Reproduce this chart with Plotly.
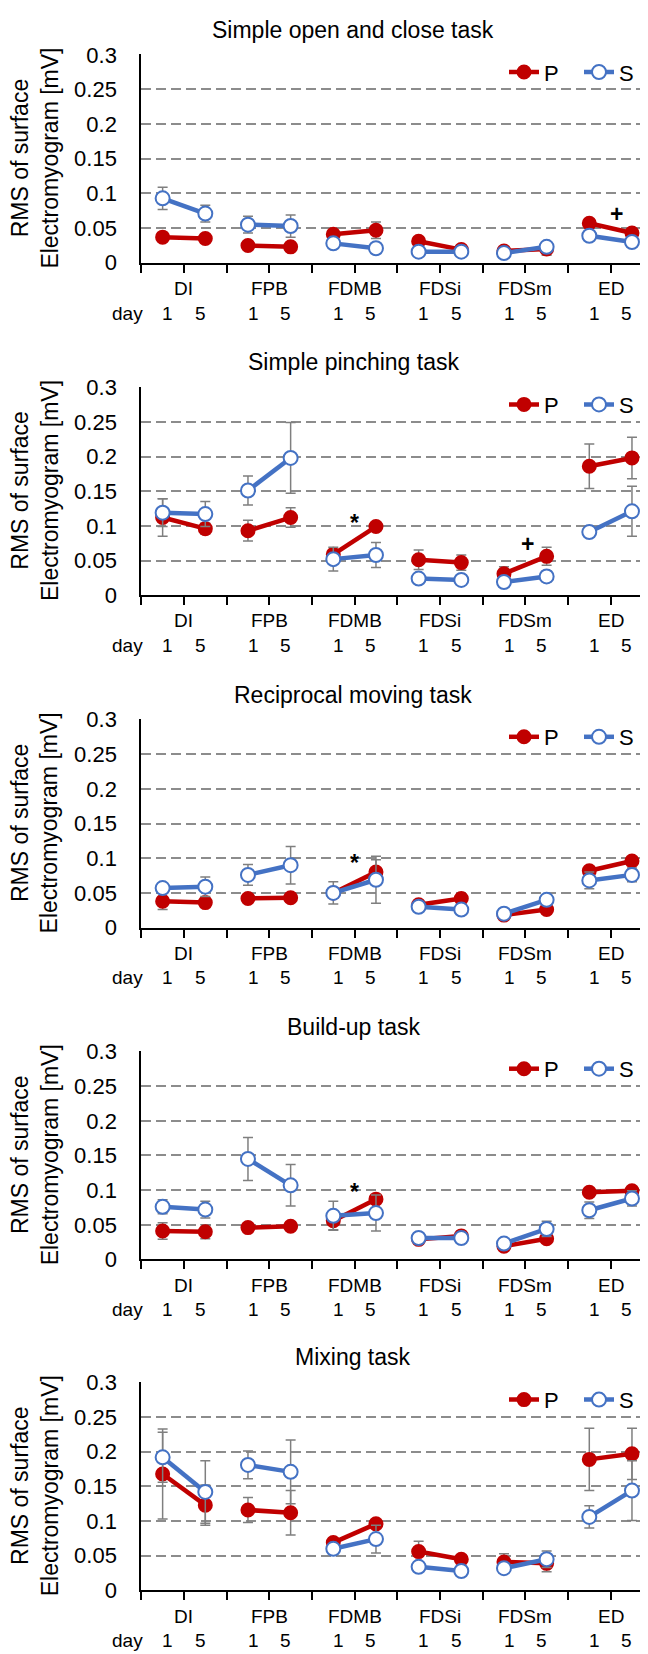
import plotly.graph_objects as go

# ---------------- data ----------------
muscles = ["DI", "FPB", "FDMB", "FDSi", "FDSm", "ED"]
days = ["1", "5"]
tasks = ["Simple open and close task", "Simple pinching task",
         "Reciprocal moving task", "Build-up task", "Mixing task"]
y_ticks = [0, 0.05, 0.1, 0.15, 0.2, 0.25, 0.3]
series_names = ["P", "S"]

# values ordered muscle by muscle: (day1, day5)
open_P = [0.037, 0.035, 0.025, 0.023, 0.041, 0.047, 0.031, 0.019, 0.017, 0.020, 0.057, 0.043]
open_P_err = [0.004, 0.004, 0.004, 0.004, 0.004, 0.012, 0.004, 0.003, 0.003, 0.009, 0.005, 0.005]
open_S = [0.093, 0.071, 0.055, 0.053, 0.028, 0.021, 0.016, 0.016, 0.014, 0.023, 0.039, 0.030]
open_S_err = [0.016, 0.012, 0.012, 0.016, 0.004, 0.003, 0.003, 0.003, 0.003, 0.004, 0.004, 0.004]

pinch_P = [0.112, 0.096, 0.093, 0.112, 0.059, 0.099, 0.051, 0.047, 0.031, 0.056, 0.186, 0.198]
pinch_P_err = [0.027, 0.008, 0.015, 0.014, 0.006, 0.004, 0.014, 0.011, 0.010, 0.013, 0.032, 0.030]
pinch_S = [0.119, 0.117, 0.151, 0.198, 0.052, 0.058, 0.024, 0.022, 0.019, 0.027, 0.091, 0.121]
pinch_S_err = [0.020, 0.018, 0.021, 0.051, 0.017, 0.018, 0.004, 0.004, 0.004, 0.008, 0.004, 0.036]

recip_P = [0.038, 0.036, 0.042, 0.043, 0.050, 0.080, 0.033, 0.042, 0.018, 0.026, 0.082, 0.096]
recip_P_err = [0.012, 0.004, 0.004, 0.004, 0.004, 0.018, 0.004, 0.005, 0.003, 0.004, 0.004, 0.005]
recip_S = [0.057, 0.059, 0.076, 0.090, 0.050, 0.069, 0.030, 0.026, 0.020, 0.040, 0.068, 0.076]
recip_S_err = [0.004, 0.014, 0.015, 0.027, 0.016, 0.034, 0.003, 0.003, 0.003, 0.004, 0.012, 0.010]

build_P = [0.041, 0.040, 0.046, 0.048, 0.056, 0.087, 0.029, 0.034, 0.019, 0.030, 0.097, 0.099]
build_P_err = [0.012, 0.010, 0.004, 0.004, 0.013, 0.004, 0.003, 0.004, 0.003, 0.004, 0.004, 0.004]
build_S = [0.076, 0.072, 0.145, 0.107, 0.063, 0.067, 0.031, 0.031, 0.023, 0.044, 0.071, 0.088]
build_S_err = [0.010, 0.012, 0.031, 0.030, 0.021, 0.026, 0.004, 0.004, 0.004, 0.011, 0.012, 0.011]

mix_P = [0.168, 0.123, 0.116, 0.112, 0.069, 0.096, 0.056, 0.045, 0.041, 0.039, 0.189, 0.197]
mix_P_err = [0.065, 0.029, 0.018, 0.032, 0.004, 0.005, 0.015, 0.004, 0.012, 0.012, 0.045, 0.037]
mix_S = [0.192, 0.142, 0.181, 0.171, 0.060, 0.074, 0.034, 0.028, 0.032, 0.045, 0.106, 0.144]
mix_S_err = [0.036, 0.045, 0.020, 0.046, 0.004, 0.020, 0.003, 0.004, 0.004, 0.012, 0.016, 0.043]

task_P = [open_P, pinch_P, recip_P, build_P, mix_P]
task_P_err = [open_P_err, pinch_P_err, recip_P_err, build_P_err, mix_P_err]
task_S = [open_S, pinch_S, recip_S, build_S, mix_S]
task_S_err = [open_S_err, pinch_S_err, recip_S_err, build_S_err, mix_S_err]

# significance marks: task index, muscle, symbol, x offset within group, y value
sig_task = [0, 1, 1, 2, 3]
sig_muscle = ["ED", "FDMB", "FDSm", "FDMB", "FDMB"]
sig_symbol = ["+", "*", "+", "*", "*"]
sig_dx = [0.14, 0.0, 0.05, 0.0, 0.0]
sig_y = [0.071, 0.104, 0.074, 0.093, 0.097]

# ---------------- layout geometry ----------------
W, H = 648, 1654
plot_left, plot_right = 133.3, 645.3
panel_tops = [35, 372.5, 710, 1047, 1383]
panel_h = 211.5
RED = "#C00000"
BLUE = "#4472C4"
GRID = "#8C8C8C"
FONT = "Liberation Sans, Arial, sans-serif"


def build_xy(vals, errs):
    xs, ys, es = [], [], []
    for m in range(len(muscles)):
        for d in range(len(days)):
            k = m * len(days) + d
            xs.append(m * 2 + 0.5 + d)
            ys.append(vals[k])
            es.append(errs[k])
        xs.append(None)
        ys.append(None)
        es.append(None)
    return xs, ys, es


fig = go.Figure()
annotations = []
n = len(tasks)
for i in range(n):
    ax = "" if i == 0 else str(i + 1)
    xa, ya = "x" + ax, "y" + ax
    top = panel_tops[i]
    bot = top + panel_h
    dom = [1 - bot / H, 1 - top / H]
    lg = "legend" if i == 0 else "legend" + str(i + 1)

    for name, vals, errs, color, fill, msize in [
        ("P", task_P[i], task_P_err[i], RED, RED, 13),
        ("S", task_S[i], task_S_err[i], BLUE, "white", 14),
    ]:
        xs, ys, es = build_xy(vals, errs)
        fig.add_trace(go.Scatter(
            x=xs, y=ys, mode="lines+markers", name=name,
            line=dict(color=color, width=4.5),
            marker=dict(size=msize, color=fill, line=dict(color=color, width=2)),
            error_y=dict(type="data", array=es, visible=True,
                         color="#7F7F7F", thickness=1.5, width=5),
            xaxis=xa, yaxis=ya, legend=lg, showlegend=True,
            connectgaps=False, cliponaxis=False,
        ))

    fig.layout["xaxis" + ax] = dict(
        domain=[plot_left / W, plot_right / W], range=[0, 12],
        anchor=ya, tickmode="array", tickvals=list(range(13)),
        showticklabels=False, ticks="outside", ticklen=8, tickwidth=1.5,
        tickcolor="black", showline=True, linecolor="black", linewidth=2,
        showgrid=False, zeroline=False, fixedrange=True,
    )
    fig.layout["yaxis" + ax] = dict(
        domain=dom, range=[0, 0.3005], anchor=xa,
        tickmode="array", tickvals=y_ticks,
        ticktext=[("%g" % v) for v in y_ticks],
        tickfont=dict(size=22, color="black", family=FONT),
        ticks="", ticklabelstandoff=18,
        showline=True, linecolor="black", linewidth=2,
        showgrid=True, gridcolor=GRID, gridwidth=1.5, griddash="10px,5px",
        zeroline=False, fixedrange=True,
    )
    fig.layout[lg] = dict(
        orientation="h", x=496 / W, xanchor="left",
        y=1 - (top + 18) / H, yanchor="middle",
        font=dict(size=22, color="black", family=FONT),
        bgcolor="rgba(0,0,0,0)", itemwidth=30, tracegroupgap=0,
        entrywidth=30, entrywidthmode="pixels",
    )

    # title
    annotations.append(dict(
        text=tasks[i], xref="paper", yref="paper", x=345 / W, y=1 - (top - 25) / H,
        showarrow=False, xanchor="center", yanchor="middle",
        font=dict(size=23, color="black", family=FONT)))
    # y title
    annotations.append(dict(
        text="RMS of surface<br>Electromyogram [mV]", xref="paper", yref="paper",
        x=27 / W, y=1 - (top + panel_h / 2) / H, textangle=-90,
        showarrow=False, xanchor="center", yanchor="middle",
        font=dict(size=23, color="black", family=FONT)))
    # muscle labels and day labels
    for m, mus in enumerate(muscles):
        annotations.append(dict(
            text=mus, xref=xa, yref="paper", x=m * 2 + 1, y=1 - (bot + 26) / H,
            showarrow=False, xanchor="center", yanchor="middle",
            font=dict(size=19, color="black", family=FONT)))
        for d, dy in enumerate(days):
            annotations.append(dict(
                text=dy, xref=xa, yref="paper", x=m * 2 + 1 + (-0.38 if d == 0 else 0.38),
                y=1 - (bot + 51) / H, showarrow=False, xanchor="center", yanchor="middle",
                font=dict(size=19, color="black", family=FONT)))
    annotations.append(dict(
        text="day", xref="paper", yref="paper", x=137 / W, y=1 - (bot + 51) / H,
        showarrow=False, xanchor="right", yanchor="middle",
        font=dict(size=19, color="black", family=FONT)))

for t, mus, sym, dx, yv in zip(sig_task, sig_muscle, sig_symbol, sig_dx, sig_y):
    ax = "" if t == 0 else str(t + 1)
    annotations.append(dict(
        text="<b>" + sym + "</b>", xref="x" + ax, yref="y" + ax,
        x=muscles.index(mus) * 2 + 1 + dx, y=yv,
        showarrow=False, xanchor="center", yanchor="middle",
        font=dict(size=23, color="black", family=FONT)))

fig.update_layout(
    width=W, height=H, margin=dict(l=0, r=0, t=0, b=0),
    paper_bgcolor="white", plot_bgcolor="white",
    annotations=annotations,
    font=dict(family=FONT, color="black"),
)

fig.write_html("out.html")
